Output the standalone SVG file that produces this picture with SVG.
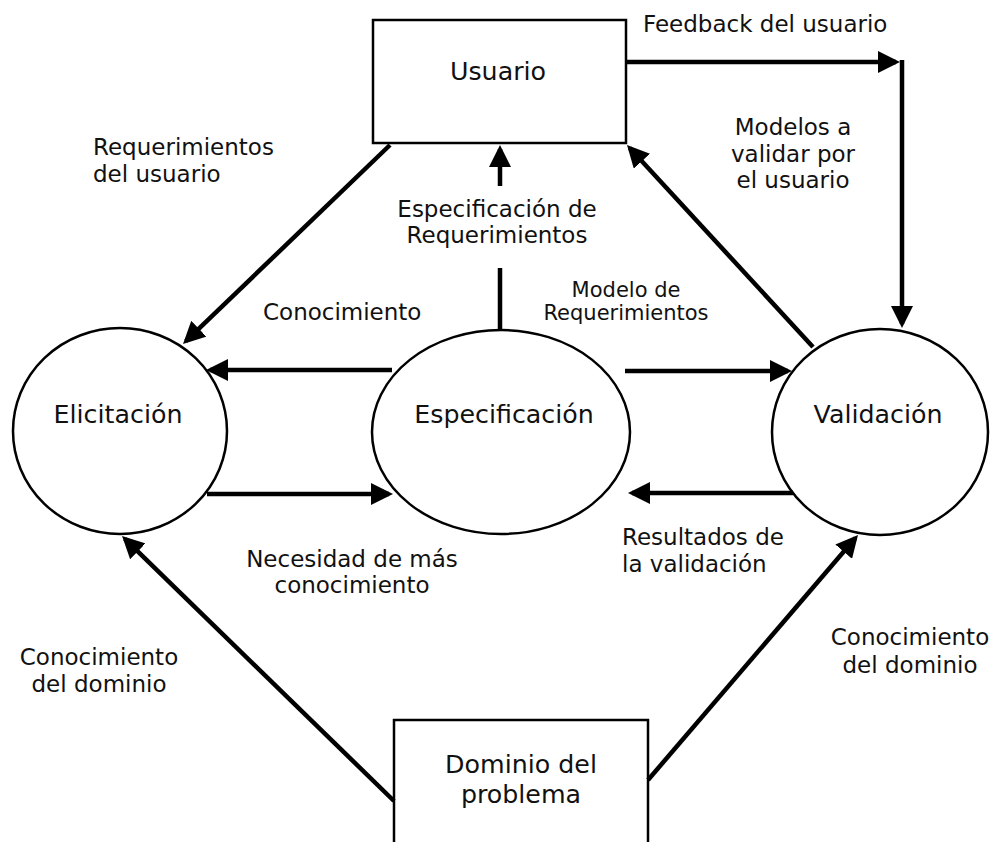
<svg xmlns="http://www.w3.org/2000/svg" width="995" height="842" viewBox="0 0 995 842">
<style>
.node{fill:#fff;stroke:#000;stroke-width:2.5}
.t{font-family:"DejaVu Sans",Verdana,sans-serif;fill:#111}
.n{font-size:25.3px;text-anchor:middle}
.l{font-size:23px}
.s{font-size:21px}
.c{text-anchor:middle}
.e{fill:none;stroke:#000;stroke-width:4.5}
</style>
<defs>
<marker id="ah" markerUnits="userSpaceOnUse" markerWidth="22" markerHeight="22" refX="18" refY="11" orient="auto">
<path d="M0,0 L22,11 L0,22 z" fill="#000"/>
</marker>
</defs>
<rect width="995" height="842" fill="#fff"/>
<g id="usuario"><rect class="node" x="373" y="20" width="253" height="123"/><text class="t n" x="498" y="80">Usuario</text></g>
<g id="elicitacion"><ellipse class="node" cx="120" cy="431" rx="107" ry="103"/><text class="t n" x="118" y="423">Elicitación</text></g>
<g id="especificacion"><ellipse class="node" cx="501" cy="432" rx="129" ry="102"/><text class="t n" x="504" y="423">Especificación</text></g>
<g id="validacion"><ellipse class="node" cx="880" cy="432" rx="108" ry="103"/><text class="t n" x="878" y="423">Validación</text></g>
<g id="dominio"><rect class="node" x="394" y="720" width="254" height="135"/><text class="t n" x="521" y="773">Dominio del</text><text class="t n" x="521" y="803">problema</text></g>
<g id="connectors">
<line class="e" x1="390" y1="145" x2="185.9" y2="341.2" marker-end="url(#ah)"/>
<line class="e" x1="500" y1="186" x2="500" y2="149" marker-end="url(#ah)"/>
<line class="e" x1="500" y1="268" x2="500" y2="331"/>
<line class="e" x1="392" y1="370" x2="210" y2="370" marker-end="url(#ah)"/>
<line class="e" x1="207" y1="494" x2="389" y2="494" marker-end="url(#ah)"/>
<line class="e" x1="625" y1="371" x2="788" y2="371" marker-end="url(#ah)"/>
<line class="e" x1="793" y1="493" x2="632" y2="493" marker-end="url(#ah)"/>
<line class="e" x1="813" y1="347" x2="629.7" y2="147.9" marker-end="url(#ah)"/>
<line class="e" x1="626" y1="62" x2="896" y2="62" marker-end="url(#ah)"/>
<line class="e" x1="902" y1="60" x2="902" y2="324" marker-end="url(#ah)"/>
<line class="e" x1="394" y1="801" x2="124.9" y2="538.8" marker-end="url(#ah)"/>
<line class="e" x1="648" y1="780" x2="855.4" y2="538" marker-end="url(#ah)"/>
</g>
<g id="labels">
<text class="t l" x="643" y="32">Feedback del usuario</text>
<text class="t l c" x="793" y="135">Modelos a</text>
<text class="t l c" x="793" y="162">validar por</text>
<text class="t l c" x="793" y="188">el usuario</text>
<text class="t l" x="93" y="155">Requerimientos</text>
<text class="t l" x="93" y="182">del usuario</text>
<text class="t l c" x="497" y="217">Especificación de</text>
<text class="t l c" x="497" y="243">Requerimientos</text>
<text class="t l" x="263" y="320">Conocimiento</text>
<text class="t s c" x="626" y="297">Modelo de</text>
<text class="t s c" x="626" y="320">Requerimientos</text>
<text class="t l c" x="352" y="567">Necesidad de más</text>
<text class="t l c" x="352" y="593">conocimiento</text>
<text class="t l" x="622" y="545">Resultados de</text>
<text class="t l" x="622" y="572">la validación</text>
<text class="t l c" x="99" y="665">Conocimiento</text>
<text class="t l c" x="99" y="692">del dominio</text>
<text class="t l c" x="910" y="645">Conocimiento</text>
<text class="t l c" x="910" y="673">del dominio</text>
</g>
</svg>
